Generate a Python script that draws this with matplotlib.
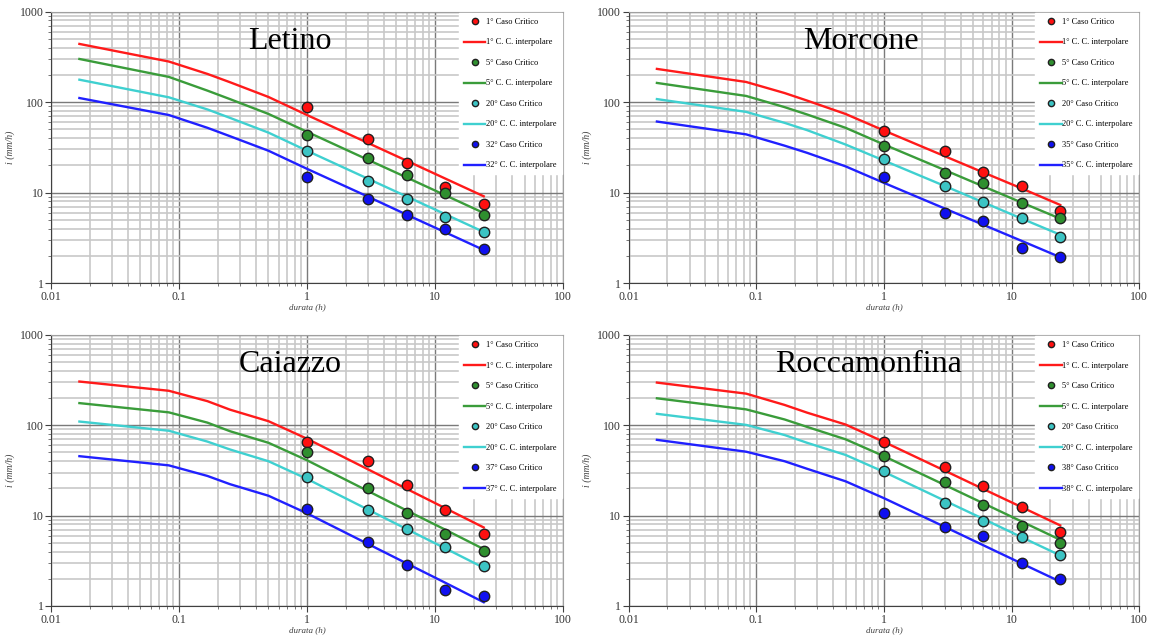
import numpy as np
import matplotlib.pyplot as plt
from matplotlib.ticker import LogLocator, FixedLocator, FixedFormatter, NullFormatter

plt.rcParams['font.family'] = ['Liberation Serif', 'DejaVu Serif']

# durate (ore)
durata_linee = [1/60, 5/60, 10/60, 15/60, 30/60, 1, 3, 6, 12, 24]
durata_punti = [1, 3, 6, 12, 24]

casi = ['1°', '5°', '20°']
colori_punti = ['#ff1010', '#2f8f2f', '#3cc4c4', '#1010f0']
colori_linee = ['#ff1a1a', '#3a9c3a', '#3fd0d0', '#2020ff']

# Letino
letino_ultimo = '32°'
letino_punti = [[89, 38.8, 21.3, 11.4, 7.4],
                [43.5, 24.2, 15.7, 9.9, 5.7],
                [28.6, 13.3, 8.4, 5.4, 3.7],
                [14.9, 8.4, 5.7, 4.0, 2.36]]
letino_linee = [[440, 281, 205, 166, 114, 72, 35.3, 22.5, 14.3, 9.1],
                [300, 190, 134, 108, 74, 47, 23.0, 14.7, 9.35, 5.95],
                [177, 113, 83, 67, 46, 29, 14.2, 9.05, 5.77, 3.67],
                [111, 72, 52, 42, 29, 18.3, 9.0, 5.7, 3.64, 2.32]]

# Morcone
morcone_ultimo = '35°'
morcone_punti = [[48.3, 29.0, 16.9, 11.8, 6.2],
                 [33.0, 16.3, 12.6, 7.65, 5.2],
                 [23.3, 11.8, 7.85, 5.3, 3.25],
                 [15.0, 6.0, 4.8, 2.43, 1.95]]
morcone_linee = [[233, 167, 126, 104, 74, 48.5, 25.2, 16.7, 11.1, 7.3],
                 [163, 117, 88, 73, 52, 34, 17.7, 11.7, 7.75, 5.15],
                 [108, 78, 59, 49, 34, 22.6, 11.8, 7.8, 5.15, 3.42],
                 [61, 44, 33, 27.5, 19.5, 12.8, 6.65, 4.4, 2.92, 1.93]]

# Caiazzo
caiazzo_ultimo = '37°'
caiazzo_punti = [[65.9, 40, 21.7, 11.6, 6.27],
                 [50.3, 20.4, 10.7, 6.3, 4.04],
                 [26.8, 11.4, 7.07, 4.47, 2.78],
                 [11.9, 5.16, 2.85, 1.5, 1.30]]
caiazzo_linee = [[305, 241, 185, 149, 111, 71, 32.5, 19.8, 12.1, 7.4],
                 [176, 139, 107, 86, 64, 41, 18.7, 11.4, 7.0, 4.26],
                 [110, 87, 66, 54, 40, 25.5, 11.65, 7.1, 4.35, 2.65],
                 [45.5, 36, 27.5, 22.3, 16.6, 10.6, 4.85, 2.96, 1.81, 1.10]]

# Roccamonfina
rocca_ultimo = '38°'
rocca_punti = [[65.9, 34.8, 21.3, 12.6, 6.55],
               [46.1, 23.6, 13.1, 7.6, 4.95],
               [31, 13.7, 8.8, 5.87, 3.65],
               [10.8, 7.56, 5.96, 3.02, 1.98]]
rocca_linee = [[297, 224, 168, 138, 102, 65.5, 31.4, 19.7, 12.4, 7.8],
               [199, 150, 116, 96, 70, 45.5, 21.8, 13.7, 8.6, 5.4],
               [134, 101, 78, 64, 47, 30.5, 14.6, 9.2, 5.76, 3.63],
               [69, 51, 40, 33, 24, 15.6, 7.5, 4.7, 2.95, 1.86]]

stazioni = [('Letino', letino_punti, letino_linee, letino_ultimo),
            ('Morcone', morcone_punti, morcone_linee, morcone_ultimo),
            ('Caiazzo', caiazzo_punti, caiazzo_linee, caiazzo_ultimo),
            ('Roccamonfina', rocca_punti, rocca_linee, rocca_ultimo)]

# posizioni degli assi in frazione di figura
posizioni = [[0.0442, 0.5564, 0.4437, 0.4253],
             [0.5447, 0.5564, 0.4426, 0.4253],
             [0.0442, 0.0502, 0.4437, 0.4248],
             [0.5447, 0.0502, 0.4426, 0.4248]]
titolo_x = [0.467, 0.455, 0.467, 0.47]
xlabel_y = [-0.076, -0.076, -0.073, -0.073]

fig = plt.figure(figsize=(11.54, 6.38), dpi=100)

for k, (nome, punti, linee, ultimo) in enumerate(stazioni):
    ax = fig.add_axes(posizioni[k])
    ax.set_xscale('log')
    ax.set_yscale('log')
    ax.set_xlim(0.01, 100)
    ax.set_ylim(1, 1000)

    etichette = casi + [ultimo]
    for j in range(4):
        ax.plot(durata_punti, punti[j], 'o', ms=7.5, mfc=colori_punti[j], mec='#202020', mew=1.0,
                label=f'{etichette[j]} Caso Critico', zorder=4)
        ax.plot(durata_linee, linee[j], '-', color=colori_linee[j], lw=1.7,
                label=f'{etichette[j]} C. C. interpolare', zorder=3)

    ax.xaxis.set_major_locator(FixedLocator([0.01, 0.1, 1, 10, 100]))
    ax.xaxis.set_major_formatter(FixedFormatter(['0.01', '0.1', '1', '10', '100']))
    ax.yaxis.set_major_locator(FixedLocator([1, 10, 100, 1000]))
    ax.yaxis.set_major_formatter(FixedFormatter(['1', '10', '100', '1000']))
    ax.xaxis.set_minor_locator(LogLocator(base=10, subs=np.arange(2, 10), numticks=20))
    ax.yaxis.set_minor_locator(LogLocator(base=10, subs=np.arange(2, 10), numticks=20))
    ax.xaxis.set_minor_formatter(NullFormatter())
    ax.yaxis.set_minor_formatter(NullFormatter())

    ax.grid(which='major', color='#7a7a7a', lw=1.0, zorder=1)
    ax.grid(which='minor', color='#c8c8c8', lw=1.2, zorder=0)
    ax.set_axisbelow(True)

    ax.tick_params(which='major', direction='out', length=4, width=0.8, labelsize=8.5, colors='#404040',
                   labelcolor='#333333', pad=1.5)
    ax.tick_params(which='minor', direction='out', length=2.5, width=0.6, colors='#606060')
    for s in ['left', 'bottom']:
        ax.spines[s].set_color('#404040')
    for s in ['top', 'right']:
        ax.spines[s].set_color('#a0a0a0')

    ax.set_xlabel('durata (h)', style='italic', fontsize=6.5, color='#404040')
    ax.xaxis.set_label_coords(0.5, xlabel_y[k])
    ax.set_ylabel('i (mm/h)', style='italic', fontsize=7, color='#404040')
    ax.yaxis.set_label_coords(-0.071, 0.5)

    ax.text(titolo_x[k], 0.89, nome, transform=ax.transAxes, ha='center', va='center', fontsize=23)

    leg = ax.legend(loc='upper right', fontsize=6, frameon=True, fancybox=False, framealpha=1,
                    edgecolor='white', facecolor='white', borderaxespad=0.15, labelspacing=1.5,
                    handlelength=2.6, handletextpad=0.1, markerscale=0.6, borderpad=0.6)
    leg.set_zorder(5)

fig.savefig('out.png', dpi=100)
